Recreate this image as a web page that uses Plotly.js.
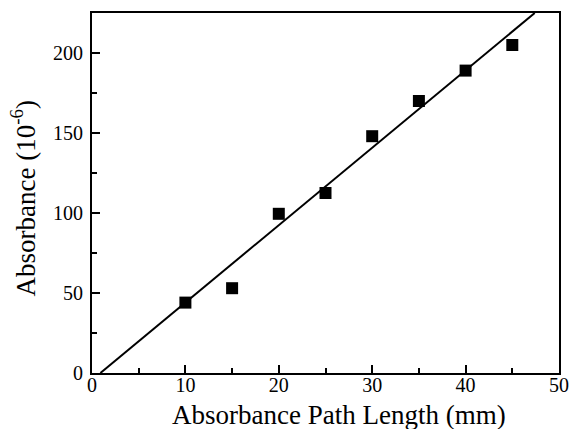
<!DOCTYPE html>
<html><head><meta charset="utf-8">
<script src="https://cdn.plot.ly/plotly-3.0.1.min.js"></script>
<style>html,body{margin:0;padding:0;background:#fff}</style>
</head><body>
<div id="chart" style="width:569px;height:429px"></div>
<script>
const pathLength = [10, 15, 20, 25, 30, 35, 40, 45];
const absorbance = [44, 53, 99.5, 112.5, 148, 170, 189, 205];
const fitX = [0.9, 47.4];
const fitY = [0, 225];
const xTitle = 'Absorbance Path Length (mm)';
const yTitle = 'Absorbance (10<sup>-6</sup>)';

const fam = '"Liberation Serif", "Times New Roman", serif';
const data = [
  {x: fitX, y: fitY, mode: 'lines', line: {color: '#000', width: 2}, hoverinfo: 'skip'},
  {x: pathLength, y: absorbance, mode: 'markers', cliponaxis: false,
   marker: {symbol: 'square', size: 12, color: '#000'}}
];
const layout = {
  width: 569, height: 429,
  margin: {l: 92, r: 10, t: 13, b: 56},
  showlegend: false,
  paper_bgcolor: '#fff', plot_bgcolor: '#fff',
  font: {family: fam, size: 20, color: '#000'},
  xaxis: {
    range: [0, 50], dtick: 10, showgrid: false, zeroline: false,
    showline: true, mirror: true, linecolor: '#000', linewidth: 2,
    ticks: 'inside', ticklen: 8, tickwidth: 2, tickcolor: '#000', ticklabelstandoff: -7,
    minor: {dtick: 5, ticks: 'inside', ticklen: 5, tickwidth: 2, tickcolor: '#000'},
    tickfont: {family: fam, size: 20, color: '#000'}
  },
  yaxis: {
    range: [0, 225], dtick: 50, showgrid: false, zeroline: false,
    showline: true, mirror: true, linecolor: '#000', linewidth: 2,
    ticks: 'inside', ticklen: 8, tickwidth: 2, tickcolor: '#000', ticklabelstandoff: 3,
    minor: {dtick: 25, ticks: 'inside', ticklen: 5, tickwidth: 2, tickcolor: '#000'},
    tickfont: {family: fam, size: 20, color: '#000'}
  },
  annotations: [
    {text: xTitle, xref: 'paper', yref: 'paper', x: 0.529, y: -0.118,
     xanchor: 'center', yanchor: 'middle', showarrow: false,
     font: {family: fam, size: 27, color: '#000'}},
    {text: yTitle, xref: 'paper', yref: 'paper', x: -0.1467, y: 0.486,
     xanchor: 'center', yanchor: 'middle', showarrow: false, textangle: -90,
     font: {family: fam, size: 27, color: '#000'}}
  ]
};
Plotly.newPlot('chart', data, layout, {displayModeBar: false, staticPlot: true});
</script>
</body></html>
